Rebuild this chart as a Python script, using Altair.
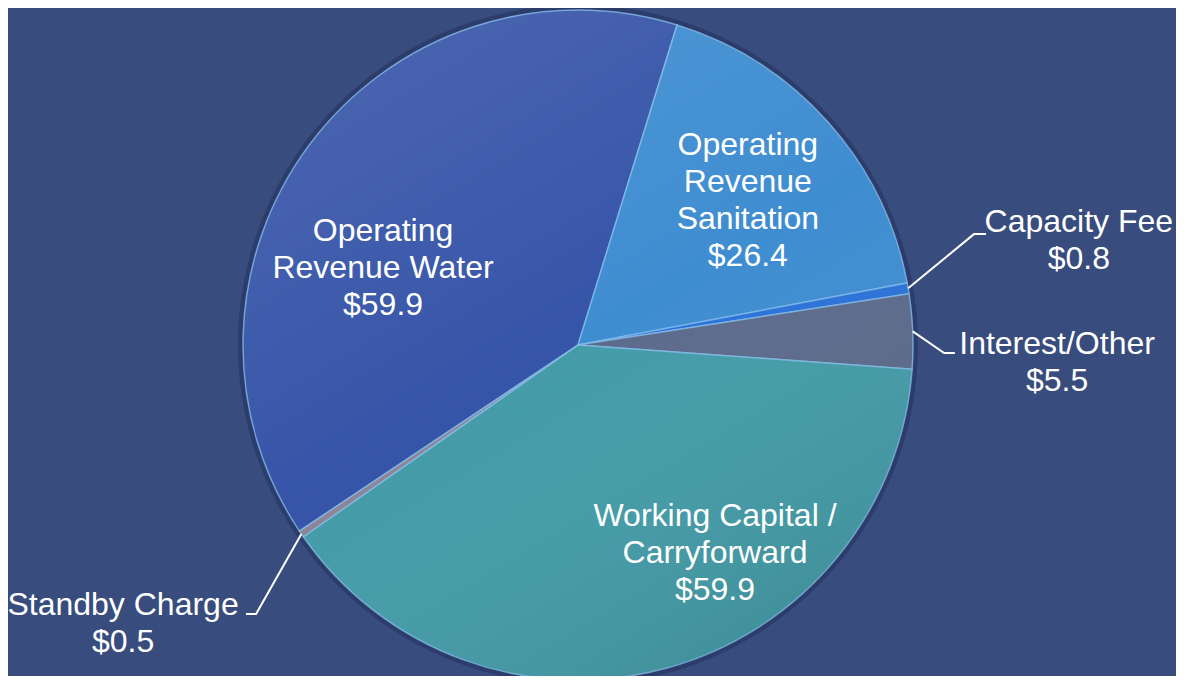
import math
import altair as alt
import pandas as pd

# ---------------- data ----------------
categories = [
    "Operating Revenue Water",
    "Operating Revenue Sanitation",
    "Capacity Fee",
    "Interest/Other",
    "Working Capital / Carryforward",
    "Standby Charge",
]
values = [59.9, 26.4, 0.8, 5.5, 59.9, 0.5]
label_lines = [
    "Operating\nRevenue Water",
    "Operating\nRevenue\nSanitation",
    "Capacity Fee",
    "Interest/Other",
    "Working Capital /\nCarryforward",
    "Standby Charge",
]
colors = ["#3654A8", "#3F8DD1", "#2C72D8", "#5C6B8C", "#449CA8", "#8C8598"]

# ---------------- layout ----------------
W, H = 1168, 668          # chart size
CX, CY, R = 570, 337, 335  # pie centre / radius in chart pixels
total = sum(values)
start = math.radians(17.2) - 2 * math.pi * values[0] / total

# first-line centres of the labels in pie-radius units (x right, y up)
label_pos = [(-0.582, 0.340), (0.507, 0.597), (1.495, 0.367),
             (1.430, 0.003), (0.409, -0.510), (-1.358, -0.776)]
# leader-line elbow and end points for the outside labels
leaders = {
    2: [(1.182, 0.331), (1.218, 0.331)],
    3: [(1.093, -0.024), (1.125, -0.024)],
    5: [(-0.961, -0.803), (-0.991, -0.803)],
}

df = pd.DataFrame({"category": categories, "value": values,
                   "idx": list(range(len(values)))})

lab = pd.DataFrame({
    "category": categories,
    "text": [f"{l}\n${v:.1f}" for l, v in zip(label_lines, values)],
    "x": [p[0] for p in label_pos],
    "y": [p[1] for p in label_pos],
})

rows = []
cum = 0.0
for i, v in enumerate(values):
    mid = start + 2 * math.pi * (cum + v / 2) / total
    cum += v
    if i in leaders:
        pts = [(math.sin(mid), math.cos(mid))] + leaders[i]
        for s, (px, py) in enumerate(pts):
            rows.append({"category": categories[i], "seq": s, "x": px, "y": py})
lead = pd.DataFrame(rows)

xs = alt.Scale(domain=[-CX / R, (W - CX) / R], nice=False, zero=False)
ys = alt.Scale(domain=[-(H - CY) / R, CY / R], nice=False, zero=False)
ts = alt.Scale(range=[start, start + 2 * math.pi])

xc = alt.XDatum(0, type="quantitative", scale=xs, axis=None)
yc = alt.YDatum(0, type="quantitative", scale=ys, axis=None)

shadow = alt.Chart(df).transform_aggregate(total="sum(value)").mark_arc(
    outerRadius=R + 5, color="#1E2B55", opacity=0.45
).encode(theta=alt.Theta("total:Q", stack=True, scale=ts), x=xc, y=yc)

pie = alt.Chart(df).mark_arc(
    outerRadius=R, stroke="#86BDEB", strokeWidth=1.5, strokeOpacity=0.75
).encode(
    theta=alt.Theta("value:Q", stack=True, scale=ts),
    color=alt.Color("category:N", scale=alt.Scale(domain=categories, range=colors), legend=None),
    order=alt.Order("idx:Q"),
    x=xc,
    y=yc,
)

shade = alt.Chart(df).transform_aggregate(total="sum(value)").mark_arc(
    outerRadius=R,
    color={
        "gradient": "linear", "x1": 0.2, "y1": 0, "x2": 0.8, "y2": 1,
        "stops": [
            {"offset": 0, "color": "rgba(255,255,255,0.10)"},
            {"offset": 0.5, "color": "rgba(255,255,255,0.0)"},
            {"offset": 1, "color": "rgba(0,0,0,0.10)"},
        ],
    },
).encode(theta=alt.Theta("total:Q", stack=True, scale=ts), x=xc, y=yc)

lines = alt.Chart(lead).mark_line(color="white", strokeWidth=2).encode(
    x=alt.X("x:Q", scale=xs, axis=None),
    y=alt.Y("y:Q", scale=ys, axis=None),
    detail="category:N",
    order="seq:Q",
)

texts = alt.Chart(lab).mark_text(
    font="Liberation Sans", fontSize=32, color="white", lineBreak="\n",
    lineHeight=37, align="center", baseline="middle",
).encode(
    x=alt.X("x:Q", scale=xs, axis=None),
    y=alt.Y("y:Q", scale=ys, axis=None),
    text="text:N",
)

chart = alt.layer(shadow, pie, shade, lines, texts).properties(
    width=W, height=H, padding=0,
    autosize=alt.AutoSizeParams(type="none"),
    background="#384C7E",
).configure_view(stroke=None)

chart.save("out.html", embed_options={"renderer": "svg", "actions": False})
